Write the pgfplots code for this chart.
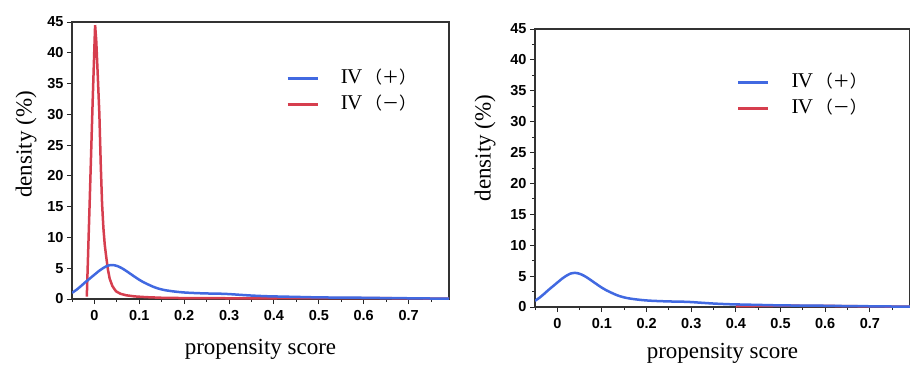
\documentclass[border=0pt]{standalone}
\usepackage{fontspec}
\setmainfont{Liberation Serif}
\newfontfamily\tickfont{Liberation Sans}
\newfontfamily\cjk{Noto Sans CJK SC}
\usepackage{pgfplots}
\pgfplotsset{compat=1.18}
\definecolor{cblue}{RGB}{65,105,225}
\definecolor{cred}{RGB}{214,62,78}
\pgfplotstableread{
x y
-0.05 1.0
-0.04 1.5
-0.03 2.1
-0.02 2.75
-0.01 3.35
0.00 3.95
0.01 4.55
0.02 5.05
0.03 5.42
0.04 5.52
0.05 5.38
0.06 5.05
0.07 4.6
0.08 4.1
0.09 3.6
0.10 3.12
0.11 2.7
0.12 2.35
0.13 2.02
0.14 1.75
0.15 1.55
0.16 1.4
0.18 1.2
0.20 1.06
0.22 0.98
0.25 0.9
0.28 0.86
0.30 0.8
0.32 0.7
0.35 0.56
0.38 0.46
0.40 0.42
0.45 0.34
0.50 0.26
0.55 0.23
0.60 0.2
0.65 0.15
0.70 0.12
0.75 0.08
0.79 0.05
}\blue
\pgfplotstableread{
x y
-0.017 0.4
-0.0105 16
-0.004 32
0.0015 44.5
0.004 42
0.007 37
0.011 30
0.014 22
0.017 15.5
0.020 11.5
0.023 8.8
0.026 7.0
0.030 4.8
0.034 3.3
0.040 2.1
0.048 1.25
0.058 0.85
0.071 0.6
0.09 0.42
0.115 0.3
0.15 0.2
0.20 0.15
0.30 0.12
0.40 0.12
0.50 0.16
0.60 0.16
0.70 0.1
0.79 0.05
}\red
\pgfplotstableread{
x y
0.40 0.12
0.50 0.22
0.60 0.18
0.70 0.1
0.79 0.05
}\redb
\newcommand{\ivp}{{\rmfamily\fontsize{21}{22}\selectfont I\kern-0.04em V}\,{\cjk （＋）}}
\newcommand{\ivm}{{\rmfamily\fontsize{21}{22}\selectfont I\kern-0.04em V}\,{\cjk （－）}}
\pgfplotsset{
  every axis/.style={
    scale only axis,
    xmin=-0.05, xmax=0.79, ymin=0, ymax=45,
    xtick={0,0.1,0.2,0.3,0.4,0.5,0.6,0.7},
    xticklabels={0,0.1,0.2,0.3,0.4,0.5,0.6,0.7},
    minor xtick={-0.05,0.05,0.15,0.25,0.35,0.45,0.55,0.65,0.75},
    ytick={0,5,...,45},
    xtick pos=bottom, ytick pos=left,
    tick align=outside,
    major tick length=5pt, minor tick length=3pt,
    every tick/.style={black!85, line width=1pt},
    axis line style={black!80, line width=1.2pt},
    tick label style={font=\tickfont\fontsize{14.5}{16}\selectfont\bfseries},
    xticklabel style={yshift=-3pt},
    /pgf/number format/assume math mode=true,
    label style={font=\fontsize{23}{26}\selectfont},
    xlabel={propensity score},
    ylabel={density (\%)},
    legend cell align=left,
    reverse legend,
    legend style={draw=none, fill=none, font=\fontsize{17}{20}\selectfont,
      row sep=10pt, anchor=west,
      nodes={inner sep=0pt, text height=13pt, text depth=3pt}},
    legend image code/.code={\draw[#1, line width=2.8pt] (0pt,0pt) -- (30pt,0pt); \path (52pt,0pt);},
  }
}
\begin{document}
\begin{tikzpicture}
\useasboundingbox (0pt,0pt) rectangle (910pt,365pt);
\begin{axis}[at={(72pt,66pt)}, anchor=south west, width=377pt, height=277pt,
  xlabel style={yshift=-12pt}, ylabel style={yshift=4pt, xshift=16pt},
  legend style={at={(axis description cs:0.56,0.75)}}]
\addplot[cred, line width=2.5pt] table[x=x,y=y] {\red};
\addlegendentry{\ivm}
\addplot[cblue, line width=2.5pt, smooth] table[x=x,y=y] {\blue};
\addlegendentry{\ivp}
\end{axis}
\begin{axis}[at={(535pt,58pt)}, anchor=south west, width=375pt, height=278pt,
  minor ytick={2.5,7.5,...,42.5},
  xlabel style={yshift=-8pt}, ylabel style={yshift=8pt, xshift=20pt},
  legend style={at={(axis description cs:0.53,0.76)}}]
\addplot[cred, line width=2.5pt] table[x=x,y=y] {\redb};
\addlegendentry{\ivm}
\addplot[cblue, line width=2.5pt, smooth] table[x=x,y=y] {\blue};
\addlegendentry{\ivp}
\end{axis}
\end{tikzpicture}
\end{document}
